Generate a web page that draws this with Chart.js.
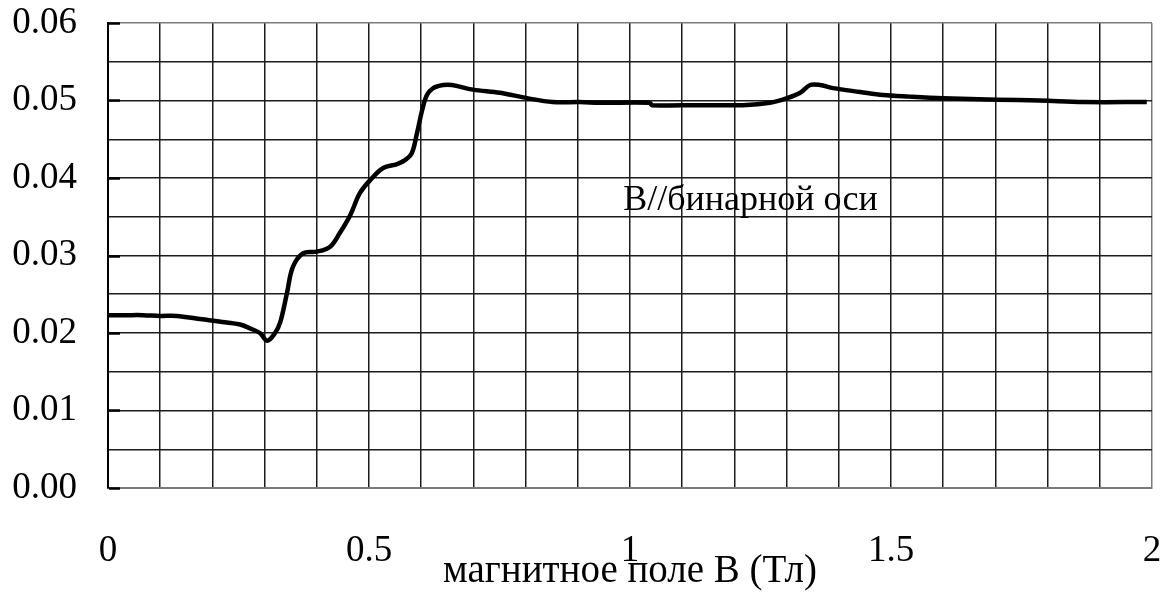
<!DOCTYPE html>
<html>
<head>
<meta charset="utf-8">
<script src="https://cdn.jsdelivr.net/npm/chart.js@4/dist/chart.umd.min.js"></script>
<style>
  html, body { margin: 0; padding: 0; background: #fff; }
  #wrap { width: 1169px; height: 595px; }
</style>
</head>
<body>
<div id="wrap"><canvas id="chart"></canvas></div>
<script>
// magnetic field, T
const fieldB = [
  0, 0.033, 0.067, 0.1, 0.132, 0.176, 0.224, 0.253, 0.272, 0.291, 0.305,
  0.32, 0.33, 0.343, 0.354, 0.374, 0.4, 0.425, 0.444, 0.464, 0.483, 0.506,
  0.527, 0.554, 0.569, 0.582, 0.592, 0.602, 0.611, 0.623, 0.642, 0.659,
  0.699, 0.751, 0.803, 0.852, 0.904, 0.943, 1.038, 1.042, 1.134, 1.216,
  1.268, 1.301, 1.326, 1.345, 1.364, 1.389, 1.441, 1.485, 1.536, 1.6,
  1.703, 1.785, 1.868, 1.99
];
// measured signal
const signal = [
  0.0223, 0.0223, 0.0223, 0.0222, 0.0222, 0.0218, 0.0214, 0.0211, 0.0206, 0.0200, 0.0190,
  0.0200, 0.0214, 0.0252, 0.0285, 0.0303, 0.0305, 0.0311, 0.0329, 0.0352, 0.0381, 0.0400,
  0.0413, 0.0418, 0.0423, 0.0432, 0.0458, 0.0488, 0.0507, 0.0516, 0.0520, 0.0520,
  0.0514, 0.0510, 0.0503, 0.0498, 0.0498, 0.0497, 0.0497, 0.0494, 0.0494, 0.0494,
  0.0497, 0.0503, 0.0510, 0.0520, 0.0520, 0.0516, 0.0511, 0.0507, 0.0505, 0.0503,
  0.0501, 0.0500, 0.0498, 0.0498
];
const xTickLabels = ['0', '0.5', '1', '1.5', '2'];
const yTickLabels = ['0.00', '0.01', '0.02', '0.03', '0.04', '0.05', '0.06'];
const curveLabel = 'B//бинарной оси';
const curveLabelAt = { x: 0.987, y: 0.0359 };
const xTitle = 'магнитное поле B (Тл)';

const serif = "'Liberation Serif', 'Times New Roman', serif";
const gridColor = '#1c1c1c';
const frameColor = '#7a7a7a';

// inner ticks on the value axis and the curve caption
const extras = {
  id: 'extras',
  afterDraw(chart) {
    const { ctx, chartArea: a, scales: { x, y } } = chart;
    ctx.save();
    ctx.strokeStyle = '#000';
    ctx.lineWidth = 2.5;
    for (let i = 0; i < yTickLabels.length; i++) {
      const py = Math.round(y.getPixelForValue(i / 100)) + 0.5;
      ctx.beginPath();
      ctx.moveTo(a.left + 1, py);
      ctx.lineTo(a.left + 12, py);
      ctx.stroke();
    }
    ctx.fillStyle = '#000';
    ctx.font = '36px ' + serif;
    ctx.textAlign = 'left';
    ctx.textBaseline = 'alphabetic';
    ctx.fillText(curveLabel, x.getPixelForValue(curveLabelAt.x), y.getPixelForValue(curveLabelAt.y));
    ctx.restore();
  }
};

new Chart(document.getElementById('chart'), {
  type: 'line',
  data: {
    datasets: [{
      data: fieldB.map((b, i) => ({ x: b, y: signal[i] })),
      borderColor: '#000',
      borderWidth: 4.5,
      pointRadius: 0,
      tension: 0.35,
      fill: false
    }]
  },
  options: {
    responsive: true,
    maintainAspectRatio: false,
    animation: false,
    layout: { padding: { top: 23, right: 17, left: 0, bottom: 0 } },
    plugins: { legend: { display: false }, tooltip: { enabled: false } },
    scales: {
      x: {
        type: 'linear',
        min: 0,
        max: 2,
        afterFit(scale) {
          scale.height = 107;
          scale.paddingLeft = 0;
          scale.paddingRight = 0;
        },
        afterBuildTicks(scale) {
          scale.ticks = [];
          for (let i = 0; i <= 20; i++) scale.ticks.push({ value: i / 10 });
        },
        ticks: {
          autoSkip: false,
          maxRotation: 0,
          padding: 41,
          color: '#000',
          font: { family: serif, size: 37 },
          callback: (v, i) => (i % 5 === 0 ? xTickLabels[i / 5] : '')
        },
        grid: {
          drawTicks: false,
          lineWidth: 1.5,
          color: c => (c.index === 20 ? frameColor : gridColor)
        },
        border: { display: true, color: frameColor, width: 2 },
        title: {
          display: true,
          text: xTitle,
          color: '#000',
          font: { family: serif, size: 39 },
          padding: { top: 0, bottom: 0 }
        }
      },
      y: {
        min: 0,
        max: 0.06,
        afterFit(scale) {
          scale.width = 108;
          scale.paddingTop = 0;
          scale.paddingBottom = 0;
        },
        afterBuildTicks(scale) {
          scale.ticks = [];
          for (let i = 0; i <= 12; i++) scale.ticks.push({ value: i / 200 });
        },
        ticks: {
          autoSkip: false,
          padding: 31,
          color: '#000',
          font: { family: serif, size: 37 },
          callback: (v, i) => (i % 2 === 0 ? yTickLabels[i / 2] : '')
        },
        grid: {
          drawTicks: false,
          lineWidth: 1.5,
          color: c => (c.index === 12 || c.index === 0 ? frameColor : gridColor)
        },
        border: { display: true, color: '#000', width: 2 }
      }
    }
  },
  plugins: [extras]
});
</script>
</body>
</html>
